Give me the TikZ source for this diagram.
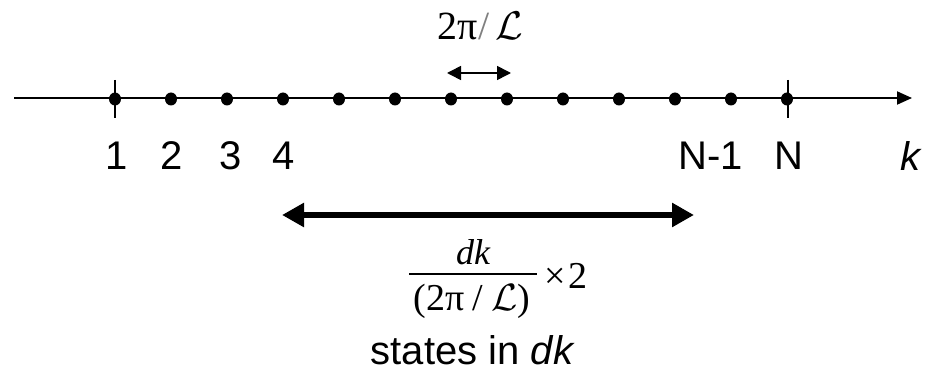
\RequirePackage{fix-cm}
\documentclass[tikz,border=0pt]{standalone}
\usepackage{fontspec}
\setmainfont{Liberation Sans}
\newfontfamily\tms{Liberation Serif}
\usetikzlibrary{arrows.meta,shapes.geometric}
\tikzset{
  lbl/.style={font=\fontsize{40}{44}\selectfont, inner sep=0pt},
  tlbl/.style={font=\tms\fontsize{38}{42}\selectfont, inner sep=0pt},
  dot/.style={fill=black, ellipse, minimum width=12pt, minimum height=13pt, inner sep=0pt},
  axisline/.style={line width=2pt, -{Triangle[length=15pt,width=13pt]}},
  smallarrow/.style={line width=1.6pt, {Triangle[length=14pt,width=14pt]}-{Triangle[length=14pt,width=14pt]}},
  bigarrow/.style={line width=6pt, {Triangle[length=22pt,width=23pt]}-{Triangle[length=22pt,width=23pt]}},
}
\begin{document}
\begin{tikzpicture}[x=1pt,y=-1pt]
\useasboundingbox (0,0) rectangle (929,379);
% axis
\coordinate (ax0) at (14,98);
\coordinate (ax1) at (912,98);
\draw[axisline] (ax0) -- (ax1);
% ticks
\coordinate (t1a) at (115,80); \coordinate (t1b) at (115,118);
\coordinate (t2a) at (788,80); \coordinate (t2b) at (788,118);
\draw[line width=1.5pt] (t1a) -- (t1b);
\draw[line width=1.5pt] (t2a) -- (t2b);
% dots
\foreach \i in {0,...,12} {
  \node[dot] (d\i) at (115+56*\i,99) {};
}
% labels
\node[lbl] (l1) at (117,156) {1};
\node[lbl] (l2) at (172,156) {2};
\node[lbl] (l3) at (231,156) {3};
\node[lbl] (l4) at (284,156) {4};
\node[lbl] (lN1) at (711,156) {N-1};
\node[lbl] (lN) at (789,156) {N};
\node[lbl] (lk) at (910,156) {\itshape k};
% small arrow
\coordinate (sa0) at (447,73);
\coordinate (sa1) at (511,73);
\draw[smallarrow] (sa0) -- (sa1);
\node[inner sep=0pt, font=\tms\fontsize{40}{44}\selectfont] (top) at (480,26)
  {2π{\color{gray}\kern1pt/}\kern6pt$\mathcal{L}$};
% big arrow
\coordinate (ba0) at (282,215);
\coordinate (ba1) at (694,215);
\draw[bigarrow] (ba0) -- (ba1);
% fraction
\node[tlbl, font=\tms\fontsize{36}{40}\selectfont] (num) at (473,252) {\itshape dk};
\coordinate (fb0) at (409,274);
\coordinate (fb1) at (537,274);
\draw[line width=1.2pt] (fb0) -- (fb1);
\node[tlbl] (den) at (472,301) {(2π\kern8pt/\kern8pt$\mathcal{L}$)};
\node[tlbl, anchor=west] (times) at (544,276) {×\kern3pt2};
\node[lbl] (states) at (472,350) {states in \itshape dk};
\end{tikzpicture}
\end{document}
